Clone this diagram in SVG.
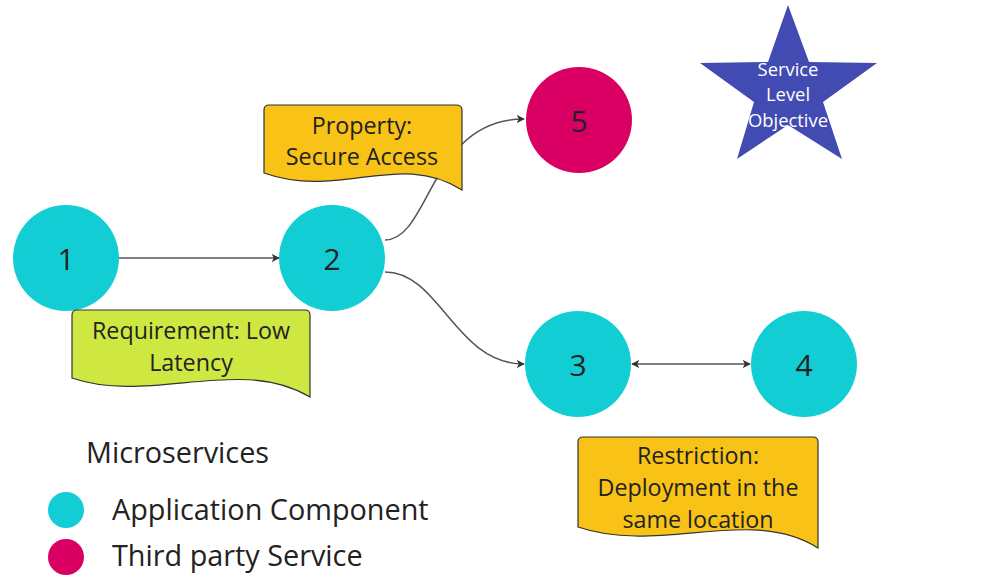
<svg xmlns="http://www.w3.org/2000/svg" width="990" height="576" viewBox="0 0 990 576">
<defs>
<style>
text{font-family:"Open Sans","Noto Sans","Liberation Sans",sans-serif;fill:#222;}
.num{font-size:30px;text-anchor:middle;dominant-baseline:central;}
.note{font-size:23.3px;text-anchor:middle;}
.star{font-size:18.4px;text-anchor:middle;fill:#fff;}
.leg{font-size:28.8px;}
.app{fill:#12CDD4;}
.tp{fill:#DA0063;}
.doc{stroke:#333;stroke-width:1.2;}
.conn{fill:none;stroke:#555;stroke-width:1.5;}
</style>
<marker id="ah" viewBox="0 0 10 10" refX="9" refY="5" markerWidth="8" markerHeight="8" markerUnits="userSpaceOnUse" orient="auto-start-reverse">
<path d="M0,0 L10,5 L0,10 L2.5,5 z" fill="#333"/>
</marker>
</defs>
<rect width="990" height="576" fill="#fff"/>
<g id="connectors">
<path class="conn" d="M119,258 L279,258" marker-end="url(#ah)"/>
<path class="conn" d="M385,240 C430,240 430,119 524,119" marker-end="url(#ah)"/>
<path class="conn" d="M385,272 C440,272 455,364 524,364" marker-end="url(#ah)"/>
<path class="conn" d="M632,364 L750,364" marker-start="url(#ah)" marker-end="url(#ah)"/>
</g>
<g id="node-1"><circle class="app" cx="66" cy="258" r="53"/><text class="num" x="66" y="258">1</text></g>
<g id="node-2"><circle class="app" cx="332" cy="258" r="53"/><text class="num" x="332" y="258">2</text></g>
<g id="node-5"><circle class="tp" cx="579" cy="120" r="53"/><text class="num" x="579" y="120">5</text></g>
<g id="node-3"><circle class="app" cx="578" cy="364" r="53"/><text class="num" x="578" y="364">3</text></g>
<g id="node-4"><circle class="app" cx="804" cy="364" r="53"/><text class="num" x="804" y="364">4</text></g>
<g id="property">
<path class="doc" fill="#F8C316" d="M264,173 L264,110 Q264,105 269,105 L456,105 Q462,105 462,110 L462,190 C400,150 340,200 264,173 Z"/>
<text class="note" x="362" y="134">Property:</text>
<text class="note" x="362" y="165">Secure Access</text>
</g>
<g id="requirement">
<path class="doc" fill="#CEE741" d="M72,378 L72,315 Q72,310 77,310 L305,310 Q310,310 310,315 L310,397 C240,355 150,405 72,378 Z"/>
<text class="note" x="191" y="339">Requirement: Low</text>
<text class="note" x="191" y="371">Latency</text>
</g>
<g id="restriction">
<path class="doc" fill="#F8C316" d="M578,527 L578,442 Q578,437 583,437 L813,437 Q818,437 818,442 L818,548 C750,505 660,555 578,527 Z"/>
<text class="note" x="698" y="464">Restriction:</text>
<text class="note" x="698" y="496">Deployment in the</text>
<text class="note" x="698" y="528">same location</text>
</g>
<g id="slo">
<polygon fill="#414BB2" points="788,5 809,62 877,63 823,102 842,159 788,125 737,159 754,102 700,63 768,62"/>
<text class="star" x="788" y="76">Service</text>
<text class="star" x="788" y="101">Level</text>
<text class="star" x="788" y="127">Objective</text>
</g>
<g id="legend">
<text class="leg" x="86" y="463">Microservices</text>
<circle class="app" cx="66" cy="510" r="18"/>
<text class="leg" x="112" y="520">Application Component</text>
<circle class="tp" cx="66" cy="557" r="18"/>
<text class="leg" x="112" y="566">Third party Service</text>
</g>
</svg>
